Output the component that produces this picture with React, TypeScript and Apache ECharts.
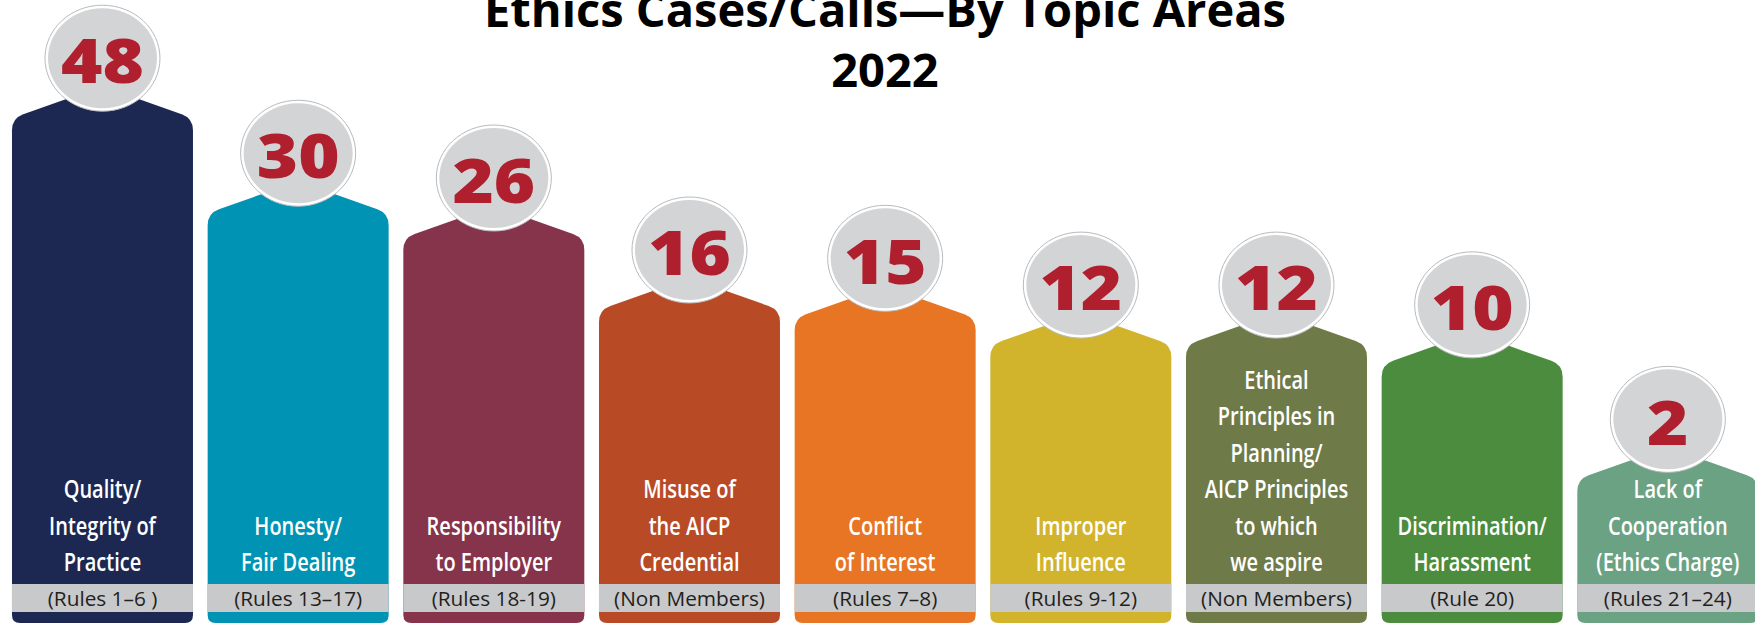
import React, { useEffect, useRef } from "react";
import * as echarts from "echarts";

// ---- data read from the infographic ----
const categories = [
  "Quality/\nIntegrity of\nPractice",
  "Honesty/\nFair Dealing",
  "Responsibility\nto Employer",
  "Misuse of\nthe AICP\nCredential",
  "Conflict\nof Interest",
  "Improper\nInfluence",
  "Ethical\nPrinciples in\nPlanning/\nAICP Principles\nto which\nwe aspire",
  "Discrimination/\nHarassment",
  "Lack of\nCooperation\n(Ethics Charge)",
];
const rules = [
  "(Rules 1–6 )",
  "(Rules 13–17)",
  "(Rules 18-19)",
  "(Non Members)",
  "(Rules 7–8)",
  "(Rules 9-12)",
  "(Non Members)",
  "(Rule 20)",
  "(Rules 21–24)",
];
const counts = [48, 30, 26, 16, 15, 12, 12, 10, 2];
const barColors = [
  "#1c2852",
  "#0093b4",
  "#86344b",
  "#b94a26",
  "#e87524",
  "#d1b42b",
  "#6f7a49",
  "#4b8c3e",
  "#6ba283",
];
const titleLines = ["Ethics Cases/Calls—By Topic Areas", "2022"];

function renderItem(params: any, api: any) {
  const i = params.dataIndex;
  const v = api.value(1);
  // the infographic's bar tops follow a square-root scale
  const pt = api.coord([api.value(0), Math.sqrt(v)]);
  const cx = pt[0];
  const top = pt[1];
  const band = api.size([1, 0])[0];
  const half = (band * 0.925) / 2;
  const H = api.getHeight();
  const bottom = H - 2;
  const xl = cx - half;
  const xr = cx + half;
  const flat = 34;
  const rise = 20;
  const corner = top + rise;
  const r = 12;
  const rb = 8;
  const dx = half - flat;
  const len = Math.hypot(dx, rise);
  const ux = dx / len;
  const uy = rise / len;
  const d =
    `M ${xl} ${bottom - rb} L ${xl} ${corner + r} ` +
    `Q ${xl} ${corner} ${xl + r * ux} ${corner - r * uy} ` +
    `L ${cx - flat} ${top} L ${cx + flat} ${top} ` +
    `L ${xr - r * ux} ${corner - r * uy} Q ${xr} ${corner} ${xr} ${corner + r} ` +
    `L ${xr} ${bottom - rb} Q ${xr} ${bottom} ${xr - rb} ${bottom} ` +
    `L ${xl + rb} ${bottom} Q ${xl} ${bottom} ${xl} ${bottom - rb} Z`;
  const cy = top - 40;
  return {
    type: "group",
    children: [
      {
        type: "path",
        shape: { pathData: d },
        style: { fill: barColors[i] },
      },
      {
        type: "rect",
        shape: { x: xl, y: H - 41, width: half * 2, height: 28 },
        style: { fill: "#c8c9cb" },
      },
      {
        type: "text",
        x: cx,
        y: H - 45,
        scaleX: 0.8,
        style: {
          text: categories[i],
          fill: "#ffffff",
          font: '600 25px "Open Sans"',
          lineHeight: 36.5,
          align: "center",
          verticalAlign: "bottom",
        },
      },
      {
        type: "text",
        x: cx,
        y: H - 27,
        scaleX: 1.04,
        style: {
          text: rules[i],
          fill: "#231f20",
          font: '400 20px "Open Sans"',
          align: "center",
          verticalAlign: "middle",
        },
      },
      {
        type: "ellipse",
        shape: { cx: cx, cy: cy, rx: 57.5, ry: 53 },
        style: { fill: "#ffffff", stroke: "#b9babc", lineWidth: 1 },
      },
      {
        type: "ellipse",
        shape: { cx: cx, cy: cy, rx: 54.5, ry: 50 },
        style: { fill: "#d3d4d6" },
      },
      {
        type: "text",
        x: cx,
        y: cy + 1,
        scaleX: 1.14,
        style: {
          text: String(v),
          fill: "#b01f2e",
          font: '800 62px "Open Sans"',
          align: "center",
          verticalAlign: "middle",
        },
      },
    ],
  };
}

export default function App() {
  const ref = useRef<HTMLDivElement>(null);
  useEffect(() => {
    document.body.style.margin = "0";
    const chart = echarts.init(ref.current!, null, { renderer: "svg" });
    chart.setOption({
      animation: false,
      grid: {
        left: 4.65,
        right: -10.65,
        top: 1.8,
        bottom: 73,
        outerBoundsMode: "none",
      },
      xAxis: { type: "category", data: categories, show: false },
      yAxis: { type: "value", min: 0, max: 8.4, show: false },
      graphic: [
        {
          type: "text",
          x: 885,
          y: 9,
          style: {
            text: titleLines[0],
            fill: "#000000",
            font: '700 47px "Open Sans"',
            align: "center",
            verticalAlign: "middle",
          },
        },
        {
          type: "text",
          x: 885,
          y: 68.5,
          style: {
            text: titleLines[1],
            fill: "#000000",
            font: '700 47px "Open Sans"',
            align: "center",
            verticalAlign: "middle",
          },
        },
      ],
      series: [
        {
          type: "custom",
          data: counts.map((c, i) => [i, c]),
          encode: { x: 0, y: 1 },
          renderItem: renderItem,
        },
      ],
    });
    return () => chart.dispose();
  }, []);
  return <div ref={ref} style={{ width: 1755, height: 625 }} />;
}
